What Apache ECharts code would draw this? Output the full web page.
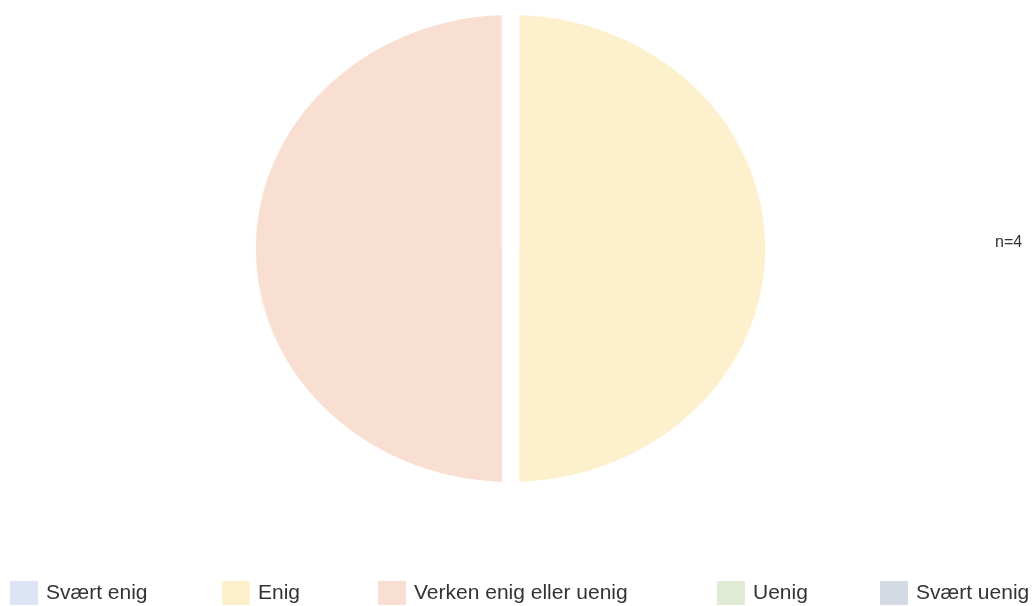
<!DOCTYPE html>
<html>
<head>
<meta charset="utf-8">
<script src="https://cdn.jsdelivr.net/npm/echarts@6/dist/echarts.min.js"></script>
<style>
  html, body { margin: 0; padding: 0; background: #ffffff; }
  #wrap { position: relative; width: 1032px; height: 606px; overflow: hidden; }
  #pie { position: absolute; left: 0; top: 0; width: 1032px; height: 606px;
         transform: scaleX(1.0905); transform-origin: 510.5px 0; }
  #ui { position: absolute; left: 0; top: 0; width: 1032px; height: 606px; }
</style>
</head>
<body>
<div id="wrap">
  <div id="pie"></div>
  <div id="ui"></div>
</div>
<script>
const categories = ['Svært enig', 'Enig', 'Verken enig eller uenig', 'Uenig', 'Svært uenig'];
const values = [0, 2, 2, 0, 0];
const colors = ['#dde4f5', '#fdf1cd', '#f9dfd2', '#e0ebd5', '#d4dae3'];
const sampleLabel = 'n=4';
const legendLefts = [10, 222, 378, 717, 880];

const pieData = categories.map((name, i) => ({
  name: name,
  value: values[i],
  itemStyle: { color: colors[i] }
}));

const pieChart = echarts.init(document.getElementById('pie'), null, { renderer: 'canvas' });
pieChart.setOption({
  animation: false,
  backgroundColor: 'transparent',
  series: [{
    type: 'pie',
    center: [510.5, 248.5],
    radius: [0, 241.3],
    startAngle: 90,
    clockwise: true,
    label: { show: false },
    labelLine: { show: false },
    emphasis: { disabled: true },
    itemStyle: { borderColor: '#ffffff', borderWidth: 15.6 },
    data: pieData
  }]
});

const uiChart = echarts.init(document.getElementById('ui'), null, { renderer: 'canvas' });
uiChart.setOption({
  animation: false,
  backgroundColor: 'transparent',
  legend: categories.map((name, i) => ({
    data: [name],
    left: legendLefts[i],
    top: 581,
    padding: 0,
    icon: 'rect',
    itemWidth: 28,
    itemHeight: 24,
    selectedMode: false,
    textStyle: {
      fontFamily: 'Liberation Sans, Arial, sans-serif',
      fontSize: 21,
      color: '#333333',
      padding: [0, 0, 0, 3]
    }
  })),
  graphic: [{
    type: 'text',
    left: 995,
    top: 235,
    style: {
      text: sampleLabel,
      fontFamily: 'Liberation Sans, Arial, sans-serif',
      fontSize: 16,
      fill: '#333333'
    }
  }],
  series: [{
    type: 'pie',
    center: [-1000, -1000],
    radius: [0, 1],
    silent: true,
    label: { show: false },
    labelLine: { show: false },
    data: pieData
  }]
});
</script>
</body>
</html>
